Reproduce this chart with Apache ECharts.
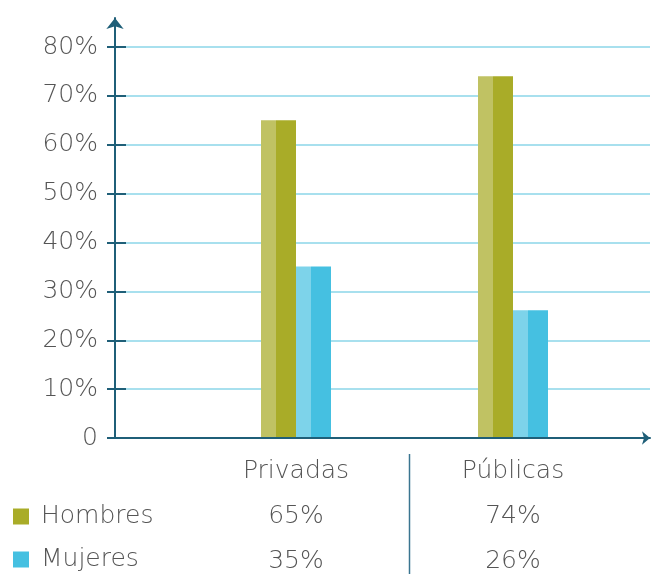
<!DOCTYPE html>
<html>
<head>
<meta charset="utf-8">
<script src="https://cdn.jsdelivr.net/npm/echarts@6/dist/echarts.min.js"></script>
<style>
  html,body{margin:0;padding:0;background:#fff;}
</style>
</head>
<body>
<div id="chart" style="width:651px;height:574px;"></div>
<script>
// datos
var categories = ['Privadas', 'Públicas']
var hombres = [65, 74]
var mujeres = [35, 26]
var seriesNames = ['Hombres', 'Mujeres']
var yTicks = [0, 10, 20, 30, 40, 50, 60, 70, 80]

var axisColor = '#1f5f78'
var gridColor = '#a8e0ee'
var textColor = '#555555'
var font = 'DejaVu Sans'
var weight = 200
var fsize = 25

// barra en dos tonos: parte izquierda clara
function twoTone(light, dark) {
  return new echarts.graphic.LinearGradient(0, 0, 1, 0, [
    { offset: 0, color: light },
    { offset: 0.43, color: light },
    { offset: 0.43, color: dark },
    { offset: 1, color: dark }
  ])
}

var myChart = echarts.init(document.getElementById('chart'))

var option = {
  animation: false,
  grid: [
    // marco: lineas de cuadricula y etiquetas
    { left: 115, right: 1, top: 47, bottom: 136 },
    // eje vertical con flecha
    { left: 115, right: 1, top: 18, bottom: 136 },
    // barras
    { left: 187.5, right: 29.5, top: 47, bottom: 136 }
  ],
  legend: {
    orient: 'vertical',
    left: 8,
    top: 499,
    height: 90,
    icon: 'rect',
    itemWidth: 16,
    itemHeight: 16,
    itemGap: 18,
    textStyle: { fontFamily: font, fontWeight: weight, fontSize: fsize, color: textColor, padding: [0, 0, 0, 7] },
    data: [
      { name: seriesNames[0], itemStyle: { color: '#a9ac28' } },
      { name: seriesNames[1], itemStyle: { color: '#45c0e1' } }
    ]
  },
  xAxis: [
    {
      gridIndex: 0, type: 'value', min: 0, max: 1,
      axisLine: { show: true, symbol: ['none', 'arrow'], symbolSize: [10, 8], lineStyle: { color: axisColor, width: 2 } },
      axisTick: { show: false }, axisLabel: { show: false }, splitLine: { show: false }
    },
    {
      gridIndex: 1, type: 'value', min: 0, max: 1, show: false
    },
    {
      gridIndex: 2, type: 'category', data: categories,
      axisLine: { show: false }, axisTick: { show: false }, splitLine: { show: false },
      axisLabel: {
        margin: 12,
        interval: 0,
        formatter: function (val, idx) {
          return '{c|' + val + '}\n{v|' + hombres[idx] + '%}\n{v|' + mujeres[idx] + '%}'
        },
        rich: {
          c: { fontFamily: font, fontWeight: weight, fontSize: fsize, color: textColor, lineHeight: 45 },
          v: { fontFamily: font, fontWeight: weight, fontSize: fsize, color: textColor, lineHeight: 45 }
        }
      }
    }
  ],
  yAxis: [
    {
      gridIndex: 0, type: 'value', min: yTicks[0], max: yTicks[yTicks.length - 1], interval: 10,
      axisLine: { show: false },
      axisTick: { show: true, length: 8, lineStyle: { color: axisColor, width: 2 } },
      axisLabel: {
        margin: 17,
        fontFamily: font, fontWeight: weight, fontSize: fsize, color: textColor,
        formatter: function (v) { return v === 0 ? '0' : v + '%' }
      },
      splitLine: { show: true, lineStyle: { color: gridColor, width: 2 } }
    },
    {
      gridIndex: 0, type: 'value', min: yTicks[0], max: yTicks[yTicks.length - 1], interval: 10,
      position: 'left',
      axisLine: { show: false },
      axisTick: { show: true, inside: true, length: 11, lineStyle: { color: axisColor, width: 2 } },
      axisLabel: { show: false },
      splitLine: { show: false }
    },
    {
      gridIndex: 1, type: 'value', min: 0, max: 1,
      axisLine: { show: true, symbol: ['none', 'arrow'], symbolSize: [13, 11], lineStyle: { color: axisColor, width: 2 } },
      axisTick: { show: false }, axisLabel: { show: false }, splitLine: { show: false }
    },
    {
      gridIndex: 2, type: 'value', min: yTicks[0], max: yTicks[yTicks.length - 1], show: false
    }
  ],
  graphic: [
    {
      type: 'line',
      shape: { x1: 409.5, y1: 454, x2: 409.5, y2: 574 },
      style: { stroke: '#3a7590', lineWidth: 1.5 }
    }
  ],
  series: [
    {
      name: seriesNames[0], type: 'bar', xAxisIndex: 2, yAxisIndex: 3,
      barWidth: 35, barGap: '0%',
      itemStyle: { color: twoTone('#c0c263', '#a9ac28') },
      data: hombres
    },
    {
      name: seriesNames[1], type: 'bar', xAxisIndex: 2, yAxisIndex: 3,
      barWidth: 35, barGap: '0%',
      itemStyle: { color: twoTone('#7dd3ea', '#45c0e1') },
      data: mujeres
    }
  ]
}

myChart.setOption(option)
</script>
</body>
</html>
